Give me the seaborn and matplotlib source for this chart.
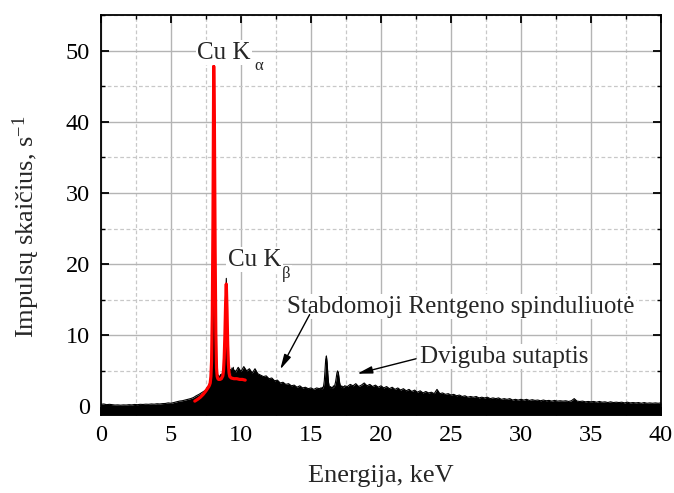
import numpy as np
import pandas as pd
import matplotlib
matplotlib.use("Agg")
import matplotlib.pyplot as plt
from matplotlib.ticker import MultipleLocator
import seaborn as sns

# ---------------- data ----------------
counts_low = [0.30, 0.35, 0.25, 0.30, 0.25, 0.20, 0.22, 0.18, 0.22, 0.20,
              0.25, 0.22, 0.28, 0.25, 0.30, 0.28, 0.32, 0.30, 0.35, 0.32,
              0.38, 0.35, 0.40, 0.42, 0.50, 0.45, 0.55, 0.65, 0.75, 0.80,
              0.90, 1.00, 1.10, 1.25, 1.50, 1.70, 1.95, 2.20]          # 0.0 .. 7.4 keV
counts_cu = [2.4, 2.5, 2.7, 2.8, 3.0, 3.2, 3.5, 4.3, 6.5, 13.0,
             27.0, 48.2, 40.0, 23.0, 10.5, 5.5, 4.3, 4.0, 4.4, 3.9,
             4.2, 4.5, 4.1, 4.6, 4.7, 5.3, 7.2, 10.5, 15.0, 18.0,
             14.0, 9.0, 6.0, 4.9, 4.6, 5.2, 4.4, 5.4, 4.7, 5.5,
             4.6, 5.1]                                                    # 7.5 .. 9.55 keV
counts_mid = [4.8, 5.5, 4.9, 5.6, 5.0, 5.3, 4.7, 5.3, 4.6, 4.4,
              4.2, 4.3, 3.9, 4.0, 3.6, 3.7, 3.3, 3.4, 3.1, 3.2,
              2.9, 3.0, 2.7, 2.9, 2.6, 2.7, 2.5, 2.6, 2.4, 2.6,
              2.5]                                                        # 9.6 .. 15.6 keV
counts_sum = [2.6, 2.4, 2.7, 2.5, 2.9, 3.6, 5.0, 6.6, 7.1, 6.2,
              4.6, 3.4, 2.8, 2.6, 2.8, 2.5, 2.7, 2.6, 2.9, 2.7,
              3.0, 3.4, 4.0, 4.7, 5.0, 4.8, 4.0, 3.3, 2.9, 2.7,
              2.9, 2.6, 2.8, 2.7, 2.9]                                    # 15.7 .. 17.4 keV
counts_high = [2.8, 3.1, 2.9, 3.2, 2.8, 3.0, 3.3, 2.9, 3.1, 2.8,
               3.0, 2.7, 2.9, 2.6, 2.8, 2.5, 2.7, 2.4, 2.6, 2.3,
               2.5, 2.2, 2.4, 2.1, 2.3, 2.0, 2.2, 1.9, 2.1, 1.9,
               2.0, 1.8, 2.4, 1.8, 1.9, 1.7, 1.8, 1.6, 1.7, 1.5,
               1.6, 1.4, 1.5, 1.3, 1.4, 1.3, 1.4, 1.2, 1.3, 1.2,
               1.3, 1.1, 1.2, 1.1, 1.2, 1.0, 1.1, 1.0, 1.1, 0.9,
               1.0, 0.9, 1.0, 0.9, 1.0, 0.85, 0.95, 0.85, 0.9, 0.8,
               0.9, 0.8, 0.85, 0.75, 0.85, 0.75, 0.8, 0.75, 0.8, 0.7,
               0.8, 1.1, 0.75, 0.7, 0.75, 0.65, 0.7, 0.65, 0.7, 0.6,
               0.7, 0.6, 0.65, 0.55, 0.65, 0.55, 0.6, 0.55, 0.6, 0.5,
               0.6, 0.5, 0.55, 0.5, 0.55, 0.45, 0.55, 0.45, 0.5, 0.45,
               0.5, 0.45, 0.5]                                            # 17.6 .. 40.0 keV

fit_energy = [6.7, 6.9, 7.1, 7.3, 7.5, 7.6, 7.7, 7.75, 7.8, 7.85,
              7.9, 7.95, 8.0, 8.05, 8.1, 8.15, 8.2, 8.25, 8.3, 8.35,
              8.4, 8.5, 8.6, 8.7, 8.75, 8.8, 8.85, 8.9, 8.95, 9.0,
              9.05, 9.1, 9.15, 9.2, 9.3, 9.5, 9.7, 9.9, 10.1, 10.3]
fit_counts = [0.75, 1.0, 1.3, 1.7, 2.2, 2.5, 2.8, 3.0, 3.3, 4.2,
              6.4, 12.8, 26.5, 47.8, 39.5, 22.5, 10.3, 5.4, 4.2, 3.9,
              3.8, 3.8, 3.9, 4.3, 5.0, 6.8, 10.0, 14.4, 17.2, 13.6,
              8.7, 5.9, 4.7, 4.2, 4.0, 3.9, 3.9, 3.8, 3.8, 3.7]

x_ticks = [0, 5, 10, 15, 20, 25, 30, 35, 40]
y_ticks = [0, 10, 20, 30, 40, 50]

# energy grids for each segment
energy = np.concatenate([
    np.linspace(0.0, 7.4, len(counts_low)),
    np.linspace(7.5, 9.55, len(counts_cu)),
    np.linspace(9.6, 15.6, len(counts_mid)),
    np.linspace(15.7, 17.4, len(counts_sum)),
    np.linspace(17.6, 40.0, len(counts_high)),
])
counts = np.concatenate([counts_low, counts_cu, counts_mid, counts_sum, counts_high])
spec = pd.DataFrame({"E": energy, "N": counts})
fit = pd.DataFrame({"E": fit_energy, "N": fit_counts})

# ---------------- style ----------------
sns.set_style("ticks")
plt.rcParams["font.family"] = ["Liberation Serif", "DejaVu Serif"]
plt.rcParams["mathtext.fontset"] = "custom"
plt.rcParams["mathtext.rm"] = "Liberation Serif"
plt.rcParams["mathtext.it"] = "Liberation Serif:italic"

fig = plt.figure(figsize=(6.74, 4.93), dpi=100)
ax = fig.add_axes([101 / 674, 1 - 415 / 493, 560 / 674, 400 / 493])

YMIN, YMAX = -1.2, 55
ax.fill_between(spec["E"], YMIN, spec["N"], color="black", lw=0, zorder=2)
sns.lineplot(data=spec, x="E", y="N", color="black", lw=0.8, estimator=None,
             sort=False, ax=ax, zorder=3)
sns.lineplot(data=fit, x="E", y="N", color="#ff0000", lw=2.3, estimator=None,
             sort=False, ax=ax, zorder=4)

ax.set_xlim(0, 40)
ax.set_ylim(YMIN, YMAX)
ax.set_xticks(x_ticks)
ax.set_yticks(y_ticks)
ax.xaxis.set_minor_locator(MultipleLocator(2.5))
ax.yaxis.set_minor_locator(MultipleLocator(5))

ax.set_axisbelow(True)
ax.grid(which="major", color="#b4b4b4", lw=1.0, ls="-")
ax.grid(which="minor", color="#c8c8c8", lw=0.9, ls=(0, (3, 2)))

for s in ax.spines.values():
    s.set_linewidth(1.3)
    s.set_color("black")
ax.tick_params(which="both", direction="in", top=True, right=True, colors="black",
               labelsize=17.5)
ax.tick_params(which="major", length=6, width=1.3)
ax.tick_params(which="minor", length=3, width=1.0)
ax.tick_params(axis="x", pad=7)
ax.tick_params(axis="y", pad=8)

ax.set_xlabel("Energija, keV", fontsize=19)
ax.set_ylabel("Impulsų skaičius, s$^\\mathregular{-1}$", fontsize=19)
ax.xaxis.set_label_coords(0.5, -0.125)
ax.yaxis.set_label_coords(-0.105, 0.47)

box = dict(facecolor="white", edgecolor="none", pad=1.0)
ax.text(6.86, 49.7, "Cu K", fontsize=18, va="center", ha="left", bbox=box, zorder=5)
ax.text(10.93, 47.9, "α", fontsize=12, va="center", ha="left", bbox=box, zorder=5)
ax.text(9.07, 20.6, "Cu K", fontsize=18, va="center", ha="left", bbox=box, zorder=5)
ax.text(12.93, 18.6, "β", fontsize=12, va="center", ha="left", bbox=box, zorder=5)
ax.text(13.3, 14.0, "Stabdomoji Rentgeno spinduliuotė", fontsize=18, va="center",
        ha="left", bbox=box, zorder=5)
ax.text(22.8, 7.0, "Dviguba sutaptis", fontsize=18, va="center", ha="left", bbox=box, zorder=5)

arrow = dict(arrowstyle="-|>,head_length=0.9,head_width=0.22", color="black", lw=1.0,
             shrinkA=0, shrinkB=0)
ax.annotate("", xy=(12.8, 5.2), xytext=(14.9, 12.9), arrowprops=arrow, zorder=5)
ax.annotate("", xy=(18.3, 4.6), xytext=(22.5, 6.7), arrowprops=arrow, zorder=5)

fig.savefig("out.png", dpi=100)
